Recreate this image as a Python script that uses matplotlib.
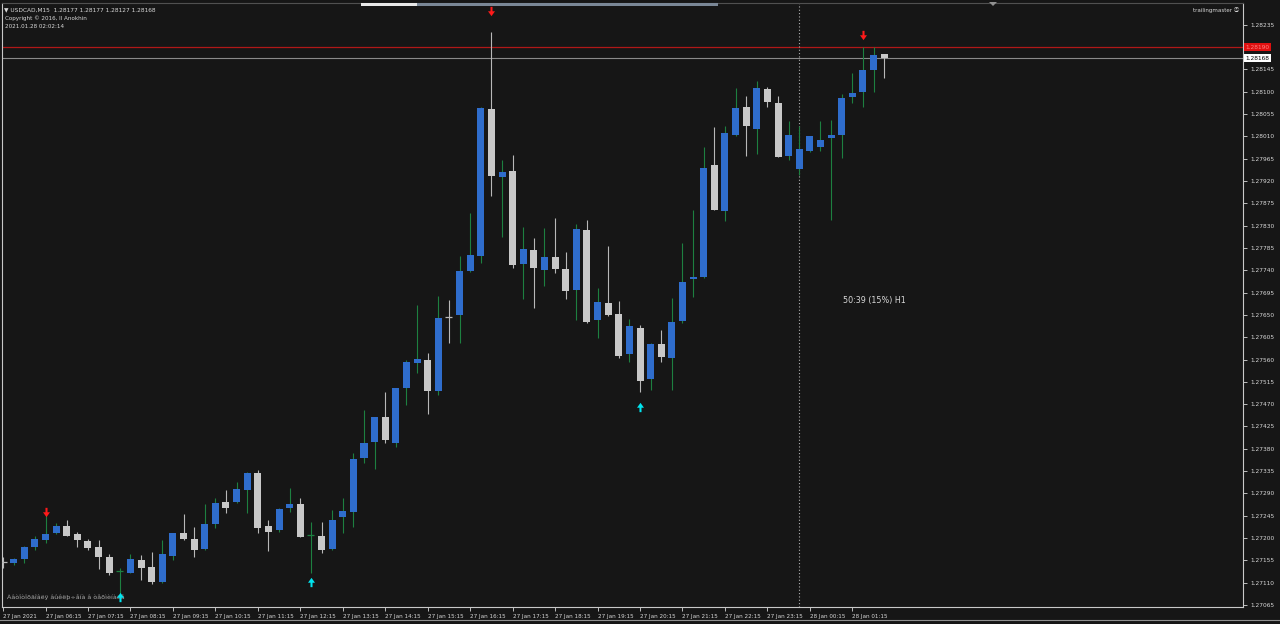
import numpy as np
import matplotlib
matplotlib.use("Agg")
import matplotlib.pyplot as plt
from matplotlib.path import Path
from matplotlib.patches import Rectangle, Polygon
from matplotlib.lines import Line2D

plt.rcParams['font.family'] = ['DejaVu Sans', 'Noto Sans CJK SC']

# USDCAD M15 bars, 27 Jan 05:15 .. 28 Jan 02:00
opens = [1.27153, 1.27149, 1.27157, 1.27181, 1.27196, 1.27210, 1.27225, 1.27208, 1.27195, 1.27181,
         1.27162, 1.27132, 1.27130, 1.27156, 1.27142, 1.27111, 1.27164, 1.27211, 1.27198, 1.27177,
         1.27228, 1.27272, 1.27272, 1.27296, 1.27332, 1.27224, 1.27216, 1.27261, 1.27269, 1.27205,
         1.27205, 1.27177, 1.27242, 1.27252, 1.27362, 1.27393, 1.27445, 1.27392, 1.27502, 1.27554,
         1.27559, 1.27497, 1.27648, 1.27649, 1.27739, 1.27768, 1.28066, 1.27929, 1.27941, 1.27753,
         1.27781, 1.27741, 1.27766, 1.27742, 1.27700, 1.27821, 1.27640, 1.27675, 1.27652, 1.27571,
         1.27624, 1.27520, 1.27592, 1.27564, 1.27637, 1.27723, 1.27726, 1.27953, 1.27860, 1.28013,
         1.28070, 1.28025, 1.28106, 1.28077, 1.27971, 1.27944, 1.27981, 1.27989, 1.28006, 1.28013,
         1.28089, 1.28099, 1.28143, 1.28177]
highs = [1.27162, 1.27160, 1.27184, 1.27204, 1.27247, 1.27231, 1.27236, 1.27213, 1.27198, 1.27196,
         1.27167, 1.27139, 1.27167, 1.27166, 1.27171, 1.27196, 1.27211, 1.27248, 1.27222, 1.27268,
         1.27280, 1.27297, 1.27313, 1.27334, 1.27337, 1.27236, 1.27261, 1.27300, 1.27280, 1.27233,
         1.27233, 1.27257, 1.27280, 1.27371, 1.27458, 1.27445, 1.27495, 1.27503, 1.27559, 1.27670,
         1.27574, 1.27688, 1.27680, 1.27768, 1.27855, 1.28069, 1.28220, 1.27963, 1.27973, 1.27827,
         1.27805, 1.27825, 1.27845, 1.27776, 1.27834, 1.27842, 1.27704, 1.27789, 1.27678, 1.27641,
         1.27630, 1.27593, 1.27620, 1.27684, 1.27795, 1.27862, 1.27988, 1.28028, 1.28030, 1.28107,
         1.28092, 1.28121, 1.28109, 1.28092, 1.28042, 1.28030, 1.28011, 1.28042, 1.28043, 1.28096,
         1.28138, 1.28190, 1.28190, 1.28177]
lows = [1.27140, 1.27145, 1.27149, 1.27176, 1.27191, 1.27208, 1.27204, 1.27181, 1.27176, 1.27137,
        1.27125, 1.27089, 1.27129, 1.27115, 1.27107, 1.27110, 1.27156, 1.27196, 1.27162, 1.27176,
        1.27220, 1.27250, 1.27270, 1.27250, 1.27210, 1.27173, 1.27213, 1.27253, 1.27202, 1.27129,
        1.27169, 1.27176, 1.27210, 1.27222, 1.27351, 1.27339, 1.27391, 1.27383, 1.27468, 1.27532,
        1.27450, 1.27489, 1.27593, 1.27594, 1.27736, 1.27754, 1.27890, 1.27808, 1.27744, 1.27682,
        1.27664, 1.27709, 1.27734, 1.27682, 1.27640, 1.27634, 1.27603, 1.27648, 1.27563, 1.27556,
        1.27495, 1.27499, 1.27556, 1.27499, 1.27633, 1.27687, 1.27724, 1.27861, 1.27840, 1.28011,
        1.27971, 1.27975, 1.28069, 1.27968, 1.27963, 1.27932, 1.27979, 1.27981, 1.27842, 1.27966,
        1.28077, 1.28069, 1.28099, 1.28127]
closes = [1.27151, 1.27158, 1.27181, 1.27198, 1.27208, 1.27224, 1.27205, 1.27196, 1.27179, 1.27161,
          1.27129, 1.27133, 1.27158, 1.27140, 1.27112, 1.27167, 1.27210, 1.27198, 1.27175, 1.27229,
          1.27270, 1.27260, 1.27299, 1.27332, 1.27220, 1.27212, 1.27259, 1.27269, 1.27203, 1.27206,
          1.27176, 1.27236, 1.27254, 1.27360, 1.27391, 1.27444, 1.27398, 1.27502, 1.27556, 1.27561,
          1.27497, 1.27643, 1.27646, 1.27739, 1.27770, 1.28067, 1.27930, 1.27939, 1.27751, 1.27783,
          1.27745, 1.27766, 1.27742, 1.27699, 1.27823, 1.27636, 1.27676, 1.27649, 1.27567, 1.27628,
          1.27517, 1.27592, 1.27565, 1.27636, 1.27716, 1.27727, 1.27946, 1.27862, 1.28017, 1.28067,
          1.28030, 1.28107, 1.28079, 1.27969, 1.28013, 1.27984, 1.28011, 1.28003, 1.28013, 1.28088,
          1.28098, 1.28144, 1.28175, 1.28168]

time_labels = ["27 Jan 2021", "27 Jan 06:15", "27 Jan 07:15", "27 Jan 08:15", "27 Jan 09:15",
               "27 Jan 10:15", "27 Jan 11:15", "27 Jan 12:15", "27 Jan 13:15", "27 Jan 14:15",
               "27 Jan 15:15", "27 Jan 16:15", "27 Jan 17:15", "27 Jan 18:15", "27 Jan 19:15",
               "27 Jan 20:15", "27 Jan 21:15", "27 Jan 22:15", "27 Jan 23:15", "28 Jan 00:15",
               "28 Jan 01:15"]

# indicator arrows (bar index, price)
sell_bars = [4, 46, 81]
sell_prices = [1.27253, 1.28263, 1.28215]
buy_bars = [11, 29, 60]
buy_prices = [1.27081, 1.27111, 1.27464]

bid = 1.28168
ask = 1.28190
day_sep_bar = 75

BG = "#161616"
BULL = "#2f6dcc"
BEAR = "#c8c8c8"
BULL_WICK = "#1d8040"
BEAR_WICK = "#b8b8b8"
FG = "#d8d8d8"

opens = np.array(opens)
highs = np.array(highs)
lows = np.array(lows)
closes = np.array(closes)
idx = np.arange(len(opens))

fig = plt.figure(figsize=(12.8, 6.24), dpi=100, facecolor=BG)
ax = fig.add_axes([2 / 1280, 17 / 624, 1241 / 1280, 604 / 624])
ax.set_facecolor(BG)

up = closes >= opens
doji = np.abs(closes - opens) < 0.00003
wick_col = np.where(up, BULL_WICK, BEAR_WICK)

# wicks
ax.vlines(idx, lows, highs, colors=wick_col, linewidth=0.8, zorder=2)

# bodies
body = ~doji
ax.bar(idx[body], np.abs(closes - opens)[body], bottom=np.minimum(opens, closes)[body],
       width=0.66, color=np.where(up, BULL, BEAR)[body], linewidth=0, zorder=3)
ax.hlines(closes[doji], idx[doji] - 0.33, idx[doji] + 0.33, colors=wick_col[doji],
          linewidth=0.9, zorder=3)

# arrows
down_arrow = Path([(-0.22, 1.0), (0.22, 1.0), (0.22, 0.05), (0.75, 0.05), (0.0, -1.0),
                   (-0.75, 0.05), (-0.22, 0.05), (-0.22, 1.0)])
up_arrow = Path([(x, -y) for x, y in down_arrow.vertices])
ax.scatter(sell_bars, sell_prices, marker=down_arrow, s=45, color="#ff1a1a", linewidths=0, zorder=4)
ax.scatter(buy_bars, buy_prices, marker=up_arrow, s=45, color="#00e5f0", linewidths=0, zorder=4)

# bid / ask lines and day separator
ax.axhline(ask, color="#b01818", linewidth=0.9, zorder=1)
ax.axhline(bid, color="#8a8a8a", linewidth=0.8, zorder=1)
ax.axvline(day_sep_bar, color="#b0b0b0", linewidth=0.8, linestyle=(0, (1, 2)), zorder=1)

ax.set_xlim(-0.1, 116.8)
ax.set_ylim(1.27061, 1.28279)

# price scale (the 1.28190 level is hidden under the ask label)
yticks = [1.28235 - 0.00045 * k for k in range(27)]
ax.yaxis.tick_right()
ax.set_yticks(yticks)
ax.set_yticklabels(["" if abs(v - ask) < 0.00002 else f"{v:.5f}" for v in yticks])
ax.tick_params(axis="y", colors=FG, labelsize=4.2, length=3, width=0.6, pad=2)

# time scale
ax.set_xticks(range(0, 84, 4))
ax.set_xticklabels(time_labels, ha="left")
ax.tick_params(axis="x", colors=FG, labelsize=4.1, length=3, width=0.6, pad=2)

for s in ax.spines.values():
    s.set_color("#c8c8c8")
    s.set_linewidth(0.8)
ax.spines["top"].set_color("#505050")

# price labels on scale
ax.text(1.002, ask, f"{ask:.5f}", transform=ax.get_yaxis_transform(), fontsize=4.2,
        color="#ff8080", va="center", ha="left",
        bbox=dict(boxstyle="square,pad=0.2", fc="#e01010", ec="none"))
ax.text(1.002, bid, f"{bid:.5f}", transform=ax.get_yaxis_transform(), fontsize=4.2,
        color="#000000", va="center", ha="left",
        bbox=dict(boxstyle="square,pad=0.2", fc="#ffffff", ec="none"))

# header texts
ax.text(0.002, 0.993, "\u25BC USDCAD,M15  1.28177 1.28177 1.28127 1.28168",
        transform=ax.transAxes, fontsize=4.2, color=FG, va="top")
ax.text(0.0025, 0.979, "Copyright \u00a9 2016, Il Anokhin", transform=ax.transAxes,
        fontsize=4.1, color=FG, va="top")
ax.text(0.0025, 0.965, "2021.01.28 02:02:14", transform=ax.transAxes,
        fontsize=4.1, color=FG, va="top")
ax.text(0.997, 0.993, "trailingmaster \u24c8", transform=ax.transAxes, fontsize=4.0,
        color=FG, va="top", ha="right")
ax.text(0.678, 0.507, "50:39 (15%) H1", transform=ax.transAxes, fontsize=5.8,
        color=FG, va="center", ha="left")
ax.text(0.004, 0.012, "\u00c0\u00e2\u00f2\u00ee\u00f2\u00ee\u00f0\u00e3\u00ee\u00e2\u00eb\u00ff "
        "\u00e2\u00fb\u00ea\u00eb\u00fe\u00f7\u00e5\u00ed\u00e0 \u00e2 \u00f2\u00e5\u00f0\u00ec\u00e8\u00ed\u00e0\u00eb\u00e5",
        transform=ax.transAxes, fontsize=4.6, color="#a8a8a8", va="bottom")

# scroll bar and shift marker at top
fig.add_artist(Rectangle((361 / 1280, 618 / 624), 357 / 1280, 3 / 624,
                         transform=fig.transFigure, fc="#7a8796", ec="none"))
fig.add_artist(Rectangle((361 / 1280, 618 / 624), 56 / 1280, 3 / 624,
                         transform=fig.transFigure, fc="#e8e8e8", ec="none"))
fig.add_artist(Polygon([(989 / 1280, 622 / 624), (997 / 1280, 622 / 624), (993 / 1280, 618 / 624)],
                       closed=True, transform=fig.transFigure, fc="#909090", ec="none"))
fig.add_artist(Line2D([0, 1], [4 / 624, 4 / 624], transform=fig.transFigure,
                      color="#909090", linewidth=0.8))

fig.savefig("out.png", dpi=100, facecolor=BG)
